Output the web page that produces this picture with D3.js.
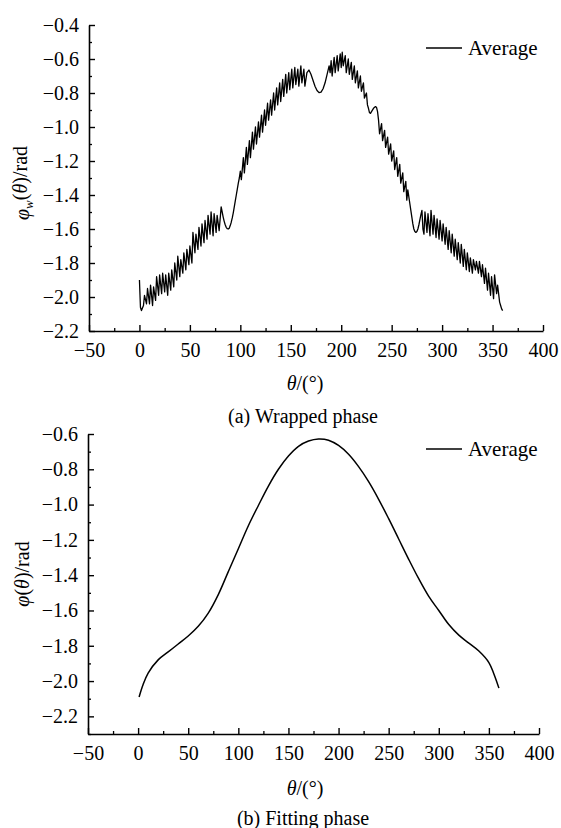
<!DOCTYPE html>
<html>
<head>
<meta charset="utf-8">
<script src="https://cdn.jsdelivr.net/npm/d3@7/dist/d3.min.js"></script>
<style>
  html, body { margin: 0; padding: 0; background: #fff; }
  svg { display: block; }
  svg text { font-family: "Liberation Serif", "Times New Roman", serif !important; fill: #000; }
</style>
</head>
<body>
<svg id="chart" width="561" height="828"></svg>
<script>
// ---------- DATA ----------
const xTicks = [-50, 0, 50, 100, 150, 200, 250, 300, 350, 400];
const xMinorTicks = [-25, 25, 75, 125, 175, 225, 275, 325, 375];
const yTicksA = [-2.2, -2.0, -1.8, -1.6, -1.4, -1.2, -1.0, -0.8, -0.6, -0.4];
const yMinorA = [-2.1, -1.9, -1.7, -1.5, -1.3, -1.1, -0.9, -0.7, -0.5];
const yTicksB = [-2.2, -2.0, -1.8, -1.6, -1.4, -1.2, -1.0, -0.8, -0.6];
const yMinorB = [-2.3, -2.1, -1.9, -1.7, -1.5, -1.3, -1.1, -0.9, -0.7];

const seriesName = "Average";

// (a) wrapped phase: [theta (deg), phase (rad)]
const wrapped = [
[0,-1.90],[1,-2.06],[2,-2.08],[4,-2.05],[5,-1.99],[7,-2.04],[8,-1.95],[10,-2.04],[11,-1.93],[13,-2.05],
[14,-1.94],[16,-2.02],[17,-1.88],[19,-1.99],[20,-1.87],[22,-1.98],[23,-1.86],[25,-1.97],[26,-1.87],[28,-1.99],
[29,-1.86],[31,-1.96],[32,-1.84],[34,-1.94],[35,-1.80],[37,-1.90],[38,-1.76],[40,-1.88],[41,-1.78],[43,-1.86],
[44,-1.74],[46,-1.84],[47,-1.72],[49,-1.81],[50,-1.70],[52,-1.80],[53,-1.62],[55,-1.74],[56,-1.63],[58,-1.72],
[59,-1.59],[61,-1.70],[62,-1.57],[64,-1.68],[65,-1.55],[67,-1.66],[68,-1.52],[70,-1.63],[71,-1.50],[73,-1.64],
[74,-1.51],[76,-1.62],[77,-1.52],[79,-1.61],[81,-1.47],[82,-1.50],[83,-1.53],[84,-1.555],[85,-1.575],[86,-1.59],
[87,-1.598],[88,-1.60],[89,-1.595],[90,-1.58],[91,-1.56],[92,-1.535],[93,-1.505],[94,-1.47],[95,-1.435],[96,-1.40],
[97,-1.365],[98,-1.33],[99,-1.30],
[100,-1.26],[101,-1.31],[103,-1.18],[104,-1.27],[106,-1.12],[107,-1.22],[109,-1.08],[110,-1.18],[112,-1.03],[113,-1.13],
[115,-1.00],[116,-1.10],[118,-0.97],[119,-1.06],[121,-0.93],[122,-1.03],[124,-0.90],[125,-0.99],[127,-0.86],[128,-0.96],
[130,-0.84],[131,-0.93],[133,-0.80],[134,-0.90],[136,-0.77],[137,-0.87],[139,-0.74],[140,-0.85],[142,-0.72],[143,-0.82],
[145,-0.69],[146,-0.80],[148,-0.68],[149,-0.78],[151,-0.66],[152,-0.77],[154,-0.65],[155,-0.75],[157,-0.66],[158,-0.76],
[160,-0.64],[161,-0.74],[163,-0.66],[164,-0.76],[166,-0.68],[168,-0.665],
[170,-0.69],[172,-0.725],[174,-0.76],[176,-0.785],[178,-0.798],[180,-0.795],[182,-0.775],[184,-0.74],[186,-0.69],[188,-0.64],
[189,-0.68],[190,-0.61],[191,-0.70],[193,-0.59],[194,-0.68],[196,-0.58],[197,-0.67],[199,-0.57],[200,-0.65],[201,-0.56],
[202,-0.64],[204,-0.58],[205,-0.68],[207,-0.60],[208,-0.69],[210,-0.62],[211,-0.72],[213,-0.64],[214,-0.74],[216,-0.67],
[217,-0.77],[219,-0.70],[220,-0.79],[222,-0.74],[223,-0.83],[225,-0.80],[226,-0.87],[227,-0.89],[228,-0.915],[229,-0.92],
[230,-0.91],[232,-0.89],[234,-0.88],[235,-0.885],[236,-0.91],
[237,-0.96],[238,-1.04],[240,-0.98],[241,-1.08],[243,-1.02],[244,-1.12],[246,-1.06],[247,-1.16],[249,-1.10],[250,-1.20],
[252,-1.14],[253,-1.25],[255,-1.18],[256,-1.29],[258,-1.22],[259,-1.33],[261,-1.27],[262,-1.38],[264,-1.32],[265,-1.43],
[266,-1.37],[268,-1.45],[269,-1.49],[270,-1.53],[271,-1.57],[272,-1.60],[273,-1.615],[274,-1.62],[275,-1.615],[276,-1.60],
[277,-1.575],[278,-1.545],[279,-1.515],[280,-1.49],
[281,-1.60],[282,-1.63],[283,-1.50],[285,-1.62],[286,-1.51],[288,-1.64],[289,-1.49],[291,-1.63],[292,-1.52],[294,-1.65],
[295,-1.54],[297,-1.66],[298,-1.55],[300,-1.67],[301,-1.57],[303,-1.69],[304,-1.59],[306,-1.72],[307,-1.61],[309,-1.74],
[310,-1.63],[312,-1.76],[313,-1.66],[315,-1.78],[316,-1.68],[318,-1.80],[319,-1.69],[321,-1.82],[322,-1.72],[324,-1.84],
[325,-1.74],[327,-1.85],[328,-1.77],[330,-1.86],[331,-1.78],[333,-1.84],[334,-1.79],[336,-1.86],[337,-1.79],[339,-1.88],
[340,-1.81],[342,-1.92],[343,-1.83],[345,-1.96],[346,-1.86],[348,-1.99],[349,-1.88],[351,-2.01],[352,-1.87],[354,-1.98],
[355,-1.93],[357,-2.03],[358,-2.05],[359,-2.07],[360,-2.08]
];

// (b) fitting phase
const fittingTheta = [1,5,10,20,30,40,50,60,70,80,90,100,110,120,130,140,150,160,170,180,190,200,210,220,230,240,250,260,270,280,290,300,310,320,330,340,350,355,360];
const fittingPhase = [-2.09,-2.02,-1.955,-1.88,-1.835,-1.79,-1.745,-1.69,-1.615,-1.51,-1.38,-1.25,-1.12,-1.005,-0.895,-0.80,-0.725,-0.67,-0.64,-0.628,-0.635,-0.665,-0.715,-0.785,-0.87,-0.97,-1.08,-1.195,-1.31,-1.42,-1.52,-1.60,-1.68,-1.74,-1.785,-1.83,-1.895,-1.96,-2.04];

// ---------- DRAW ----------
const svg = d3.select("#chart");
const FONT = 20;
const FAMILY = '"Liberation Serif", "Times New Roman", serif';

function panel(cfg) {
  const g = svg.append("g").attr("font-family", FAMILY);
  const x = d3.scaleLinear().domain([-50, 400]).range([cfg.x0, cfg.x1]);
  const y = d3.scaleLinear().domain(cfg.yDomain).range([cfg.yBottom, cfg.yTop]);

  // minor ticks
  g.append("g").attr("transform", `translate(0,${cfg.yBottom})`)
    .call(d3.axisBottom(x).tickValues(xMinorTicks).tickSizeInner(-3).tickSizeOuter(0).tickFormat(""))
    .call(s => s.select(".domain").remove())
    .call(s => s.selectAll("line").attr("stroke-width", 1.3));
  g.append("g").attr("transform", `translate(${cfg.x0},0)`)
    .call(d3.axisLeft(y).tickValues(cfg.yMinor).tickSizeInner(-3).tickSizeOuter(0).tickFormat(""))
    .call(s => s.select(".domain").remove())
    .call(s => s.selectAll("line").attr("stroke-width", 1.3));

  // major axes
  const xa = g.append("g").attr("transform", `translate(0,${cfg.yBottom})`)
    .call(d3.axisBottom(x).tickValues(xTicks).tickSizeInner(-6).tickSizeOuter(0).tickPadding(12).tickFormat(d3.format("d")));
  const ya = g.append("g").attr("transform", `translate(${cfg.x0},0)`)
    .call(d3.axisLeft(y).tickValues(cfg.yTicks).tickSizeInner(-6).tickSizeOuter(0).tickPadding(10).tickFormat(d3.format(".1f")));
  [xa, ya].forEach(a => {
    a.attr("font-family", FAMILY).attr("font-size", FONT);
    a.select(".domain").attr("stroke-width", 1.6);
    a.selectAll("line").attr("stroke-width", 1.4);
    a.selectAll("text").attr("font-size", FONT).style("font-family", FAMILY);
  });

  // line
  g.append("path").datum(cfg.data)
    .attr("fill", "none").attr("stroke", "#000").attr("stroke-width", cfg.lw)
    .attr("stroke-linejoin", "round")
    .attr("d", d3.line().x(d => x(d[0])).y(d => y(d[1])).curve(cfg.curve));

  // legend
  g.append("line").attr("x1", 426).attr("x2", 462).attr("y1", cfg.legY).attr("y2", cfg.legY)
    .attr("stroke", "#000").attr("stroke-width", 1.5);
  g.append("text").attr("x", 468).attr("y", cfg.legY).attr("dy", "0.35em")
    .attr("font-size", 21).text(seriesName);

  // x title
  const xt = g.append("text").attr("x", cfg.xTitleX).attr("y", cfg.xTitleY).attr("dy", "0.35em")
    .attr("text-anchor", "middle").attr("font-size", FONT);
  xt.append("tspan").attr("font-style", "italic").text("θ");
  xt.append("tspan").text("/(°)");

  // y title
  const yt = g.append("text").attr("transform", `translate(${cfg.yTitleX},${cfg.yTitleY}) rotate(-90)`)
    .attr("text-anchor", "middle").attr("dy", "0.35em").attr("font-size", FONT);
  yt.append("tspan").attr("font-style", "italic").text("φ");
  if (cfg.sub) {
    yt.append("tspan").attr("font-style", "italic").attr("font-size", 13).attr("dy", "0.3em").text(cfg.sub);
    yt.append("tspan").attr("dy", "-0.3em").text("(");
  } else {
    yt.append("tspan").text("(");
  }
  yt.append("tspan").attr("font-style", "italic").text("θ");
  yt.append("tspan").text(")/rad");

  // caption
  g.append("text").attr("x", cfg.capX).attr("y", cfg.capY).attr("dy", "0.35em")
    .attr("text-anchor", "middle").attr("font-size", FONT).text(cfg.caption);
}

panel({
  x0: 89, x1: 543, yTop: 25, yBottom: 331, yDomain: [-2.2, -0.4],
  yTicks: yTicksA, yMinor: yMinorA, data: wrapped,
  curve: d3.curveLinear, lw: 1.3, legY: 48,
  xTitleX: 305, xTitleY: 383, yTitleX: 22, yTitleY: 183, sub: "w",
  capX: 303, capY: 416, caption: "(a) Wrapped phase"
});

panel({
  x0: 88, x1: 539, yTop: 434, yBottom: 734, yDomain: [-2.3, -0.6],
  yTicks: yTicksB, yMinor: yMinorB, data: fittingTheta.map((t, i) => [t, fittingPhase[i]]),
  curve: d3.curveCatmullRom.alpha(0.5), lw: 1.5, legY: 449,
  xTitleX: 305, xTitleY: 788, yTitleX: 22, yTitleY: 574, sub: null,
  capX: 303, capY: 818, caption: "(b) Fitting phase"
});
</script>
</body>
</html>
